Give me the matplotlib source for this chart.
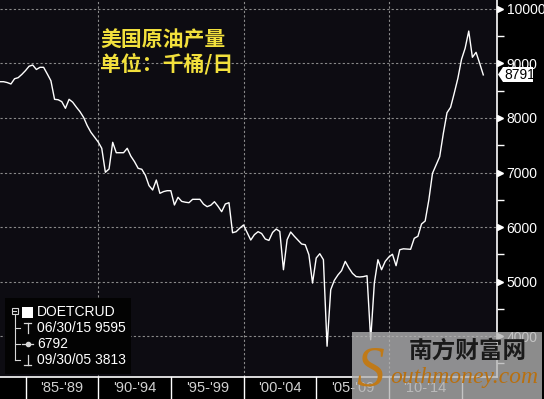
import numpy as np
import pandas as pd
import matplotlib
matplotlib.use('Agg')
import matplotlib.pyplot as plt
import matplotlib.dates as mdates
from matplotlib.patches import Rectangle, Polygon
from matplotlib.transforms import blended_transform_factory

plt.rcParams['font.family'] = ['Liberation Sans', 'Noto Sans CJK SC']

# US crude oil production, thousand barrels/day (DOETCRUD), quarterly 1983Q1 - 2016Q2
production = [
    8666, 8666, 8650, 8624, 8720, 8740, 8800, 8870, 8950, 8972,
    8890, 8930, 8930, 8810, 8684, 8343, 8335, 8300, 8178, 8343,
    8290, 8200, 8116, 8010, 7860, 7740, 7650, 7560, 7444, 7004,
    7064, 7554, 7363, 7363, 7363, 7444, 7300, 7200, 7077, 7059,
    6950, 6760, 6679, 6862, 6618, 6650, 6666, 6666, 6404, 6545,
    6470, 6455, 6446, 6508, 6508, 6508, 6420, 6373, 6400, 6464,
    6380, 6281, 6422, 6446, 5895, 5914, 5980, 6037, 5900, 5761,
    5860, 5914, 5880, 5780, 5754, 5900, 5963, 5919, 5216, 5767,
    5908, 5830, 5760, 5688, 5675, 5492, 4972, 5431, 5510, 5400,
    3813, 4850, 5020, 5120, 5200, 5369, 5250, 5150, 5090, 5083,
    5090, 5106, 3932, 4972, 5400, 5216, 5369, 5450, 5500, 5290,
    5583, 5600, 5595, 5591, 5793, 5830, 6055, 6110, 6495, 6985,
    7138, 7290, 7719, 8097, 8196, 8453, 8728, 9077, 9279, 9595,
    9114, 9205, 9003, 8791,
]
quarters = pd.date_range('1983-03-31', periods=len(production), freq='QE')

period_labels = ["'85-'89", "'90-'94", "'95-'99", "'00-'04", "'05-'09", "'10-'14"]
period_years = [1985, 1990, 1995, 2000, 2005, 2010, 2015]
grid_years = [1990, 2000, 2010]
major_ticks = [4000, 5000, 6000, 7000, 8000, 9000, 10000]
minor_ticks = [3500, 4500, 5500, 6500, 7500, 8500, 9500]
legend_lines = ['DOETCRUD', '06/30/15 9595', '6792', '09/30/05 3813']
last_value = '8791'
title_lines = ['美国原油产量', '单位：千桶/日']

W, H = 544, 399
fig = plt.figure(figsize=(W / 100, H / 100), dpi=100, facecolor='black')

# main plot area: pixels 0..497 wide, 0..377 tall
ax = fig.add_axes([0, 1 - 377 / H, 497 / W, 377 / H])
ax.set_facecolor('#0d0c12')
ax.plot(quarters, production, color='white', lw=1.0, zorder=3)

x0 = mdates.date2num(quarters[0])
x1 = mdates.date2num(quarters[-1])
px_day = 483.3 / (x1 - x0)
ax.set_xlim(x0, x0 + 497 / px_day)
ax.set_ylim(3248, 10165)

for v in major_ticks:
    ax.axhline(v, color='#8a8a8a', lw=0.8, dashes=(2, 2), zorder=1)
for yr in grid_years:
    ax.axvline(pd.Timestamp(yr, 1, 1), color='#8a8a8a', lw=0.8, dashes=(2, 2), zorder=1)

for s in ['left', 'top']:
    ax.spines[s].set_visible(False)
ax.spines['right'].set_color('white')
ax.spines['bottom'].set_color('white')
ax.spines['right'].set_linewidth(1.2)
ax.spines['bottom'].set_linewidth(1.2)

ax.yaxis.tick_right()
ax.set_yticks(major_ticks)
ax.set_yticklabels([str(v) for v in major_ticks])
ax.set_yticks(minor_ticks, minor=True)
ax.tick_params(axis='y', which='major', length=0, pad=7, labelsize=10, labelcolor='white')
ax.tick_params(axis='y', which='minor', length=5, width=1, color='white', direction='out')
ax.set_xticks([])

trans_y = blended_transform_factory(ax.transAxes, ax.transData)
ax.plot([1 + 3 / 497] * len(major_ticks), major_ticks, linestyle='none', marker='>',
        markersize=5, color='white', transform=trans_y, clip_on=False)

# bottom band with period separators and labels
trans_x = blended_transform_factory(ax.transData, ax.transAxes)
for yr in period_years:
    ax.plot([pd.Timestamp(yr, 1, 1)] * 2, [0, -22 / 377], color='white', lw=1,
            transform=trans_x, clip_on=False)
for i, lab in enumerate(period_labels):
    mid = pd.Timestamp(period_years[i], 1, 1) + (pd.Timestamp(period_years[i + 1], 1, 1)
                                                 - pd.Timestamp(period_years[i], 1, 1)) / 2
    ax.text(mid, -11 / 377, lab, transform=trans_x, ha='center', va='center',
            fontsize=10.5, color='#d0d0d0')

# overlay in pixel coordinates
ov = fig.add_axes([0, 0, 1, 1])
ov.set_xlim(0, W)
ov.set_ylim(H, 0)
ov.axis('off')
ov.patch.set_alpha(0)

# title
ov.text(100, 39, title_lines[0], fontsize=15, fontweight='bold', color='#f2e03c',
        family=['Noto Sans CJK SC', 'DejaVu Sans'], va='center', ha='left')
ov.text(100, 64, title_lines[1], fontsize=15, fontweight='bold', color='#f2e03c',
        family=['Noto Sans CJK SC', 'DejaVu Sans'], va='center', ha='left')

# last value tag
ov.add_patch(Polygon([(498, 74.5), (503, 67), (533, 67), (533, 82), (503, 82)],
                     closed=True, facecolor='white', edgecolor='none'))
ov.text(504, 75, last_value, fontsize=10, color='black', va='center', ha='left')

# legend block
ov.add_patch(Rectangle((5, 298), 126, 76, facecolor='#030303', edgecolor='none'))
lc = '#d8d8d8'
ov.add_patch(Rectangle((11.5, 307.5), 6, 6, facecolor='none', edgecolor=lc, lw=0.8))
ov.plot([13, 16], [310.5, 310.5], color=lc, lw=0.8)
ov.add_patch(Rectangle((22, 307), 11, 11, facecolor='white', edgecolor='none'))
ov.plot([14.5, 14.5], [314, 360], color=lc, lw=0.8)
for yy in [328, 344, 360]:
    ov.plot([14.5, 20], [yy, yy], color=lc, lw=0.8)
ov.plot([24, 31], [323, 323], color=lc, lw=0.9)
ov.plot([27.5, 27.5], [323, 333], color=lc, lw=0.9)
ov.plot([22, 33], [344, 344], color=lc, lw=0.9)
ov.plot([27.5], [344], marker='o', markersize=3, color=lc)
ov.plot([27.5, 27.5], [355, 365], color=lc, lw=0.9)
ov.plot([24, 31], [365, 365], color=lc, lw=0.9)
for k, txt in enumerate(legend_lines):
    ov.text(37, 312 + 16 * k, txt, fontsize=10, color='white', va='center', ha='left')

# watermark
ov.add_patch(Rectangle((352, 332), 190, 67, facecolor='#b4b4b4', alpha=0.78,
                       edgecolor='none', zorder=5))
ov.text(370, 372, 'S', fontsize=40, style='italic', family='Liberation Serif',
        color='#c07a18', va='center', ha='center', zorder=6)
ov.text(468, 351, '南方财富网', fontsize=17, fontweight='bold', color='#1a1a1a',
        family=['Noto Sans CJK SC', 'DejaVu Sans'], va='center', ha='center', zorder=6)
ov.text(390, 377, 'outhmoney.com', fontsize=17, style='italic', family='Liberation Serif',
        color='#b87010', va='center', ha='left', zorder=6)

fig.savefig('out.png', dpi=100, facecolor='black')
